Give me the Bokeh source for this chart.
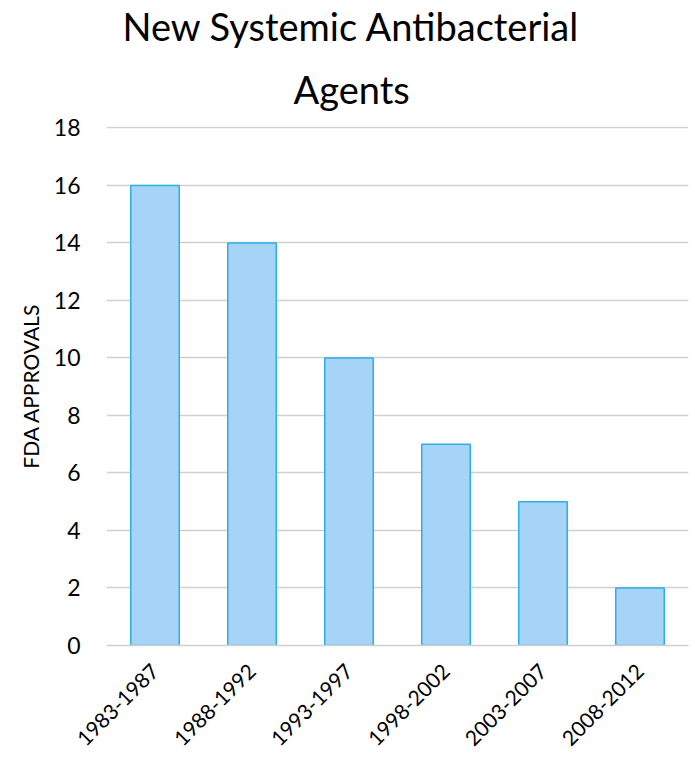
import math
from bokeh.plotting import figure
from bokeh.models import Range1d, FixedTicker, Title, ColumnDataSource
from bokeh.embed import file_html
from bokeh.resources import INLINE

# FDA approvals of new systemic antibacterial agents, by five-year period
periods = ["1983-1987", "1988-1992", "1993-1997", "1998-2002", "2003-2007", "2008-2012"]
approvals = [16, 14, 10, 7, 5, 2]
y_ticks = [0, 2, 4, 6, 8, 10, 12, 14, 16, 18]

FONT = "Lato"

source = ColumnDataSource(data=dict(period=periods, count=approvals))

p = figure(
    width=695, height=760,
    x_range=periods,
    y_range=Range1d(0, 18.05),
    output_backend="svg",
    toolbar_location=None,
    min_border_left=106, min_border_right=7,
    min_border_top=126, min_border_bottom=115,
    outline_line_color=None,
)

p.vbar(x="period", top="count", width=0.5, source=source,
       fill_color="#a5d4f6", line_color="#2dafe6", line_width=1.5)

# two-line title, stacked outward from the plot; each line shifted so the
# pair sits centred on the whole canvas
p.add_layout(Title(text="Agents", align="left", text_font=FONT,
                   text_font_size="38px", text_font_style="normal",
                   text_color="#000000", standoff=30, offset=187), "above")
p.add_layout(Title(text="New Systemic Antibacterial", align="left", text_font=FONT,
                   text_font_size="38px", text_font_style="normal",
                   text_color="#000000", standoff=0, offset=16), "above")

p.yaxis.ticker = FixedTicker(ticks=y_ticks)
p.yaxis.axis_label = "FDA APPROVALS"
p.yaxis.axis_label_text_font = FONT
p.yaxis.axis_label_text_font_size = "21px"
p.yaxis.axis_label_text_font_style = "normal"
p.yaxis.axis_label_text_color = "#000000"
p.yaxis.axis_label_standoff = 8
p.yaxis.major_label_text_font = FONT
p.yaxis.major_label_text_font_size = "23px"
p.yaxis.major_label_text_color = "#000000"
p.yaxis.major_label_standoff = 20
p.yaxis.axis_line_color = None
p.yaxis.major_tick_line_color = None
p.yaxis.minor_tick_line_color = None

p.xaxis.major_label_orientation = math.pi / 4
p.xaxis.major_label_text_font = FONT
p.xaxis.major_label_text_font_size = "21px"
p.xaxis.major_label_text_color = "#000000"
p.xaxis.major_label_standoff = 16
p.xaxis.axis_line_color = "#d0d0d0"
p.xaxis.axis_line_width = 1.5
p.xaxis.major_tick_line_color = None
p.xaxis.minor_tick_line_color = None

p.xgrid.grid_line_color = None
p.ygrid.grid_line_color = "#d0d0d0"
p.ygrid.grid_line_width = 1.5

p.x_range.range_padding = 0.0

open("out.html", "w").write(file_html(p, INLINE))
